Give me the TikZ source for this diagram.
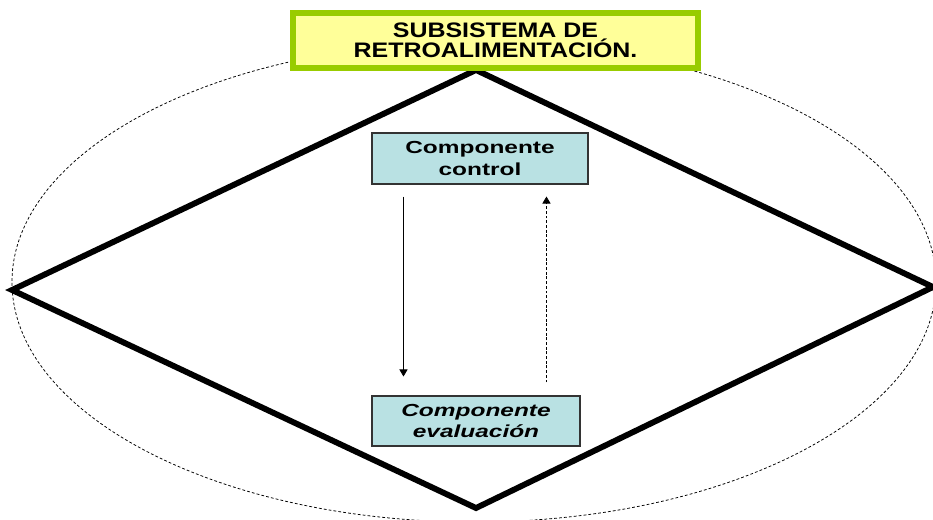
\documentclass[tikz,border=0pt]{standalone}
\usepackage{fontspec}
\usepackage{tikz}
\usetikzlibrary{arrows.meta}
\setmainfont{Liberation Sans}
\newfontfamily\headfont[FakeStretch=1.19]{Liberation Sans}
\newfontfamily\compfont[FakeStretch=1.4]{Liberation Sans}
\definecolor{headgreen}{HTML}{99CC00}
\definecolor{headyellow}{HTML}{FFFF99}
\definecolor{compteal}{HTML}{B9E1E3}

\begin{document}
\begin{tikzpicture}[x=0.03cm, y=-0.03cm]
      \useasboundingbox (0,0) rectangle (933,519);

      % outer limit and the diamond
      \draw[dash pattern=on 2.4pt off 1.8pt, line width=0.65pt] (474,282) ellipse [x radius=462, y radius=240];
      \draw[line width=5pt, line join=miter] (476,70) -- (933,287) -- (476,508) -- (12,290) -- cycle;

      % components
      \node[draw=black!80, fill=compteal, line width=0.9pt, minimum width=6.48cm, minimum height=1.53cm,
            align=center, font=\compfont\bfseries\fontsize{14.9}{18.5}\selectfont] (ctrl) at (480,158.5)
            {Componente\\control};
      \node[draw=black!80, fill=compteal, line width=0.9pt, minimum width=6.24cm, minimum height=1.5cm,
            align=center, font=\compfont\bfseries\itshape\fontsize{14.9}{18.5}\selectfont] (eval) at (476,421)
            {Componente\\evaluación};

      \draw[-{Triangle[width=7pt,length=6pt]}, line width=0.6pt, shorten <=0.36cm, shorten >=0.57cm]
            ([xshift=0.96cm]ctrl.south west) -- ([xshift=0.96cm]eval.north west);
      \draw[-{Triangle[width=7pt,length=6pt]}, line width=0.6pt, dash pattern=on 2.5pt off 1.5pt,
            shorten <=0.39cm, shorten >=0.36cm]
            ([xshift=5.25cm]eval.north west) -- ([xshift=5.25cm]ctrl.south west);

      % title
      \node[draw=headgreen, fill=headyellow, line width=5.6pt, minimum width=12.15cm, minimum height=1.65cm,
            align=center, font=\headfont\bfseries\fontsize{17.9}{17}\selectfont] (head) at (495.5,40.5)
            {SUBSISTEMA DE\\RETROALIMENTACIÓN.};
\end{tikzpicture}
\end{document}
